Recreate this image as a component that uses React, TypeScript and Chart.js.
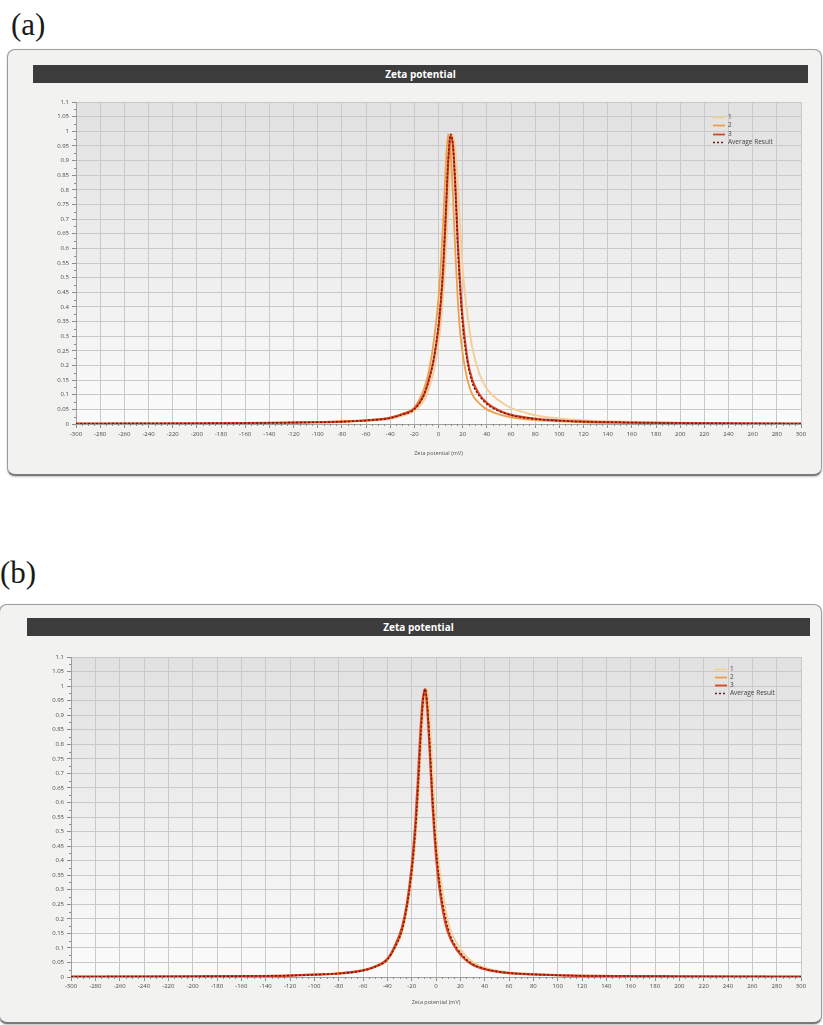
import { useEffect, useRef } from "react";
import { Chart, registerables } from "chart.js";

Chart.register(...registerables);

// Axis ticks shared by both panels
const xTicks = [-300, -280, -260, -240, -220, -200, -180, -160, -140, -120, -100, -80, -60, -40, -20, 0, 20, 40, 60, 80, 100, 120, 140, 160, 180, 200, 220, 240, 260, 280, 300];
const yTicks = [0, 0.05, 0.1, 0.15, 0.2, 0.25, 0.3, 0.35, 0.4, 0.45, 0.5, 0.55, 0.6, 0.65, 0.7, 0.75, 0.8, 0.85, 0.9, 0.95, 1, 1.05, 1.1];

const runLabels = ["1", "2", "3", "Average Result"];
const titleText = "Zeta potential";
const axisTitle = "Zeta potential (mV)";

// Panel (a): zeta potential (mV) and normalised intensity per run
const zetaA = [-300, -250, -200, -160, -120, -100, -80, -60, -40, -30, -20, -12, -8, -4, 0, 2, 4, 6, 8, 10, 12, 14, 16, 18, 20, 24, 28, 34, 40, 50, 60, 80, 100, 120, 160, 200, 250, 300];
const run1A = [0.001, 0.0015, 0.002, 0.003, 0.005, 0.006, 0.008, 0.011, 0.018, 0.028, 0.045, 0.08, 0.12, 0.18, 0.28, 0.35, 0.45, 0.58, 0.75, 0.92, 0.99, 0.94, 0.82, 0.67, 0.53, 0.37, 0.26, 0.17, 0.12, 0.08, 0.055, 0.03, 0.019, 0.013, 0.007, 0.004, 0.002, 0.001];
const run2A = [0.001, 0.0015, 0.002, 0.003, 0.005, 0.007, 0.009, 0.013, 0.022, 0.035, 0.056, 0.12, 0.18, 0.28, 0.43, 0.55, 0.7, 0.88, 0.99, 0.93, 0.78, 0.58, 0.42, 0.31, 0.24, 0.15, 0.1, 0.07, 0.05, 0.033, 0.023, 0.013, 0.009, 0.006, 0.004, 0.002, 0.0015, 0.001];
const run3A = [0.001, 0.0015, 0.002, 0.003, 0.005, 0.006, 0.008, 0.012, 0.021, 0.033, 0.052, 0.1, 0.15, 0.22, 0.33, 0.42, 0.54, 0.71, 0.89, 0.985, 0.95, 0.81, 0.62, 0.47, 0.36, 0.22, 0.15, 0.1, 0.072, 0.046, 0.031, 0.018, 0.012, 0.008, 0.005, 0.003, 0.002, 0.001];
const avgA = [0.001, 0.0015, 0.002, 0.003, 0.005, 0.006, 0.008, 0.012, 0.02, 0.032, 0.05, 0.1, 0.15, 0.22, 0.34, 0.43, 0.55, 0.72, 0.9, 0.99, 0.95, 0.8, 0.6, 0.45, 0.34, 0.21, 0.14, 0.095, 0.068, 0.044, 0.03, 0.017, 0.011, 0.008, 0.005, 0.003, 0.002, 0.001];

// Panel (b)
const zetaB = [-300, -250, -200, -160, -120, -100, -80, -60, -50, -40, -34, -28, -24, -20, -17, -15, -13, -11, -9, -7, -5, -3, -1, 1, 4, 8, 12, 18, 24, 30, 40, 60, 80, 100, 120, 160, 200, 250, 300];
const run1B = [0.001, 0.0015, 0.002, 0.003, 0.006, 0.009, 0.013, 0.024, 0.037, 0.062, 0.1, 0.16, 0.23, 0.34, 0.47, 0.59, 0.74, 0.88, 0.97, 0.99, 0.88, 0.72, 0.57, 0.45, 0.33, 0.23, 0.16, 0.11, 0.075, 0.052, 0.032, 0.016, 0.01, 0.007, 0.005, 0.003, 0.002, 0.0015, 0.001];
const run2B = [0.001, 0.0015, 0.002, 0.003, 0.005, 0.008, 0.012, 0.022, 0.034, 0.058, 0.098, 0.155, 0.235, 0.355, 0.49, 0.62, 0.78, 0.92, 0.985, 0.92, 0.78, 0.62, 0.49, 0.39, 0.28, 0.19, 0.135, 0.09, 0.062, 0.043, 0.027, 0.013, 0.009, 0.006, 0.004, 0.003, 0.002, 0.0015, 0.001];
const run3B = [0.001, 0.0015, 0.002, 0.003, 0.005, 0.008, 0.012, 0.023, 0.036, 0.062, 0.105, 0.17, 0.25, 0.38, 0.53, 0.67, 0.83, 0.95, 0.99, 0.91, 0.76, 0.6, 0.47, 0.37, 0.27, 0.18, 0.13, 0.088, 0.06, 0.042, 0.027, 0.013, 0.009, 0.006, 0.004, 0.003, 0.002, 0.0015, 0.001];
const avgB = [0.001, 0.0015, 0.002, 0.003, 0.005, 0.008, 0.012, 0.022, 0.035, 0.06, 0.1, 0.16, 0.24, 0.36, 0.5, 0.63, 0.79, 0.93, 0.99, 0.93, 0.79, 0.63, 0.5, 0.4, 0.29, 0.2, 0.14, 0.095, 0.065, 0.045, 0.028, 0.014, 0.009, 0.006, 0.004, 0.003, 0.002, 0.0015, 0.001];

type Series = { label: string; values: number[]; color: string; width: number; dash?: number[] };

const runStyles = [
  { color: "#f4cf9a", width: 2 },
  { color: "#eca04c", width: 1.8 },
  { color: "#dd4524", width: 2.2 },
  { color: "#6f170f", width: 1.5, dash: [2, 2] },
];

function makeSeries(values: number[][]): Series[] {
  return values.map((v, i) => ({ label: runLabels[i], values: v, ...runStyles[i] }));
}

const seriesA = makeSeries([run1A, run2A, run3A, avgA]);
const seriesB = makeSeries([run1B, run2B, run3B, avgB]);

const FONT = "'Open Sans', 'DejaVu Sans', sans-serif";

const plotBackground = {
  id: "plotBackground",
  beforeDraw(chart: any) {
    const { ctx, chartArea: a } = chart;
    const g = ctx.createLinearGradient(0, a.top, 0, a.bottom);
    g.addColorStop(0, "#e1e1e1");
    g.addColorStop(1, "#fbfbfb");
    ctx.save();
    ctx.fillStyle = g;
    ctx.fillRect(a.left, a.top, a.right - a.left, a.bottom - a.top);
    ctx.restore();
  },
};

const minorTicks = {
  id: "minorTicks",
  afterDraw(chart: any) {
    const { ctx, chartArea: a, scales } = chart;
    ctx.save();
    ctx.strokeStyle = "#8c8c8c";
    ctx.lineWidth = 1;
    ctx.beginPath();
    for (let i = 0; i < xTicks.length - 1; i++) {
      const step = (xTicks[i + 1] - xTicks[i]) / 4;
      for (let k = 1; k < 4; k++) {
        const px = Math.round(scales.x.getPixelForValue(xTicks[i] + k * step)) + 0.5;
        ctx.moveTo(px, a.bottom);
        ctx.lineTo(px, a.bottom + 2);
      }
    }
    for (let i = 0; i < yTicks.length - 1; i++) {
      const py = Math.round(scales.y.getPixelForValue((yTicks[i] + yTicks[i + 1]) / 2)) + 0.5;
      ctx.moveTo(a.left - 2, py);
      ctx.lineTo(a.left, py);
    }
    ctx.stroke();
    ctx.restore();
  },
};

type ChartProps = {
  left: number;
  top: number;
  width: number;
  height: number;
  xs: number[];
  series: Series[];
  xAxisH: number;
  titlePadB: number;
  tickPad: number;
  legend: { right: number; top: number; step: number };
};

function ZetaChart(p: ChartProps) {
  const ref = useRef<HTMLCanvasElement>(null);

  useEffect(() => {
    const legendPlugin = {
      id: "runLegend",
      afterDraw(chart: any) {
        const { ctx, chartArea: a } = chart;
        const x = a.right - p.legend.right;
        ctx.save();
        ctx.font = `6.5px ${FONT}`;
        ctx.textBaseline = "middle";
        p.series.forEach((s, i) => {
          const y = Math.round(a.top + p.legend.top + i * p.legend.step) + 0.5;
          ctx.strokeStyle = s.color;
          ctx.lineWidth = Math.min(s.width, 1.8);
          ctx.setLineDash(s.dash ?? []);
          ctx.beginPath();
          ctx.moveTo(x, y);
          ctx.lineTo(x + 12, y);
          ctx.stroke();
          ctx.setLineDash([]);
          ctx.fillStyle = "#444";
          ctx.fillText(s.label, x + 15, y);
        });
        ctx.restore();
      },
    };

    const chart = new Chart(ref.current as HTMLCanvasElement, {
      type: "line",
      data: {
        datasets: p.series.map((s, i) => ({
          label: s.label,
          data: p.xs.map((x, j) => ({ x, y: s.values[j] })),
          borderColor: s.color,
          borderWidth: s.width,
          borderDash: s.dash ?? [],
          pointRadius: 0,
          fill: false,
          cubicInterpolationMode: "monotone" as const,
          order: p.series.length - 1 - i,
        })),
      },
      options: {
        animation: false,
        responsive: false,
        devicePixelRatio: 1,
        layout: { padding: { top: 12, right: 14, left: 0, bottom: 0 } },
        plugins: { legend: { display: false }, tooltip: { enabled: false } },
        scales: {
          x: {
            type: "linear",
            min: -300,
            max: 300,
            afterBuildTicks: (sc: any) => {
              sc.ticks = xTicks.map((v) => ({ value: v }));
            },
            afterFit: (sc: any) => {
              sc.height = p.xAxisH;
            },
            grid: { color: "#c9c9c9", lineWidth: 1, tickLength: 4, tickColor: "#8c8c8c" },
            border: { display: true, color: "#a0a0a0" },
            ticks: {
              font: { size: 6, family: FONT },
              color: "#4a4a4a",
              padding: p.tickPad,
              maxRotation: 0,
              autoSkip: false,
              callback: (v: any) => String(v),
            },
            title: {
              display: true,
              text: axisTitle,
              font: { size: 5.5, family: FONT },
              color: "#555",
              padding: { top: 0, bottom: p.titlePadB },
            },
          },
          y: {
            type: "linear",
            min: 0,
            max: 1.1,
            afterBuildTicks: (sc: any) => {
              sc.ticks = yTicks.map((v) => ({ value: v }));
            },
            afterFit: (sc: any) => {
              sc.width = 56;
            },
            grid: { color: "#c9c9c9", lineWidth: 1, tickLength: 4, tickColor: "#8c8c8c" },
            border: { display: true, color: "#a0a0a0" },
            ticks: {
              font: { size: 6, family: FONT },
              color: "#4a4a4a",
              padding: 3,
              autoSkip: false,
              callback: (v: any) => String(+Number(v).toFixed(2)),
            },
          },
        },
      },
      plugins: [plotBackground, minorTicks, legendPlugin],
    });
    return () => chart.destroy();
  }, []);

  return (
    <canvas
      ref={ref}
      width={p.width}
      height={p.height}
      style={{ position: "absolute", left: p.left, top: p.top, width: p.width, height: p.height }}
    />
  );
}

const panelLabel = (left: number, top: number): React.CSSProperties => ({
  position: "absolute",
  left,
  top,
  fontFamily: "'Liberation Serif', 'DejaVu Serif', serif",
  fontSize: 31,
  lineHeight: "34px",
  color: "#1a1a1a",
});

const frame = (left: number, top: number, width: number, height: number): React.CSSProperties => ({
  position: "absolute",
  left,
  top,
  width,
  height,
  boxSizing: "border-box",
  border: "1px solid #9c9c9c",
  borderBottom: "2px solid #7a7a7a",
  borderRadius: 8,
  background: "#f2f2f0",
  boxShadow: "0 1px 2px rgba(0,0,0,0.25)",
});

const titleBar = (left: number, top: number, width: number): React.CSSProperties => ({
  position: "absolute",
  left,
  top,
  width,
  height: 18,
  background: "#3c3c3c",
  color: "#ffffff",
  fontFamily: FONT,
  fontWeight: 700,
  fontSize: 10,
  lineHeight: "18px",
  textAlign: "center",
});

export default function App() {
  return (
    <div style={{ position: "absolute", left: 0, top: 0, width: 823, height: 1025, background: "#ffffff", overflow: "hidden" }}>
      <div style={panelLabel(11, 8)}>(a)</div>
      <div style={frame(7, 49, 815, 427)} />
      <div style={titleBar(33, 65, 775)}>{titleText}</div>
      <ZetaChart
        left={20}
        top={90}
        width={795}
        height={375}
        xs={zetaA}
        series={seriesA}
        xAxisH={41}
        titlePadB={8}
        tickPad={3}
        legend={{ right: 88, top: 15, step: 8.4 }}
      />

      <div style={panelLabel(0, 556)}>(b)</div>
      <div style={frame(-1, 604, 823, 420)} />
      <div style={titleBar(27, 618, 783)}>{titleText}</div>
      <ZetaChart
        left={15}
        top={645}
        width={800}
        height={370}
        xs={zetaB}
        series={seriesB}
        xAxisH={38}
        titlePadB={9}
        tickPad={2}
        legend={{ right: 86, top: 12, step: 8 }}
      />
    </div>
  );
}
